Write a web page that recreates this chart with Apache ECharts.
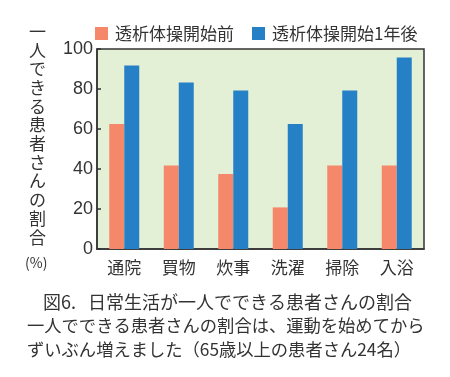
<!DOCTYPE html>
<html><head><meta charset="utf-8">
<script src="https://cdn.jsdelivr.net/npm/echarts@6/dist/echarts.min.js"></script>
<style>html,body{margin:0;padding:0;background:#fff}#c{width:450px;height:377px}</style>
</head><body><div id="c"></div>
<script>
const categories = ['通院','買物','炊事','洗濯','掃除','入浴'];
const seriesNames = ['透析体操開始前','透析体操開始1年後'];
const before = [62.5, 41.7, 37.5, 20.8, 41.7, 41.7];
const after = [91.7, 83.3, 79.2, 62.5, 79.2, 95.8];
const yTicks = [0, 20, 40, 60, 80, 100];
const yName = '一人できる患者さんの割合';
const yUnit = '(%)';
const figLabel = '図6.';
const captionLines = ['日常生活が一人でできる患者さんの割合','一人でできる患者さんの割合は、運動を始めてから','ずいぶん増えました（65歳以上の患者さん24名）'];

const font = '"Noto Sans CJK JP", "Noto Sans", sans-serif';
const chart = echarts.init(document.getElementById('c'), null, {renderer:'canvas'});
chart.setOption({
  animation:false,
  textStyle:{fontFamily:font},
  legend:{
    top:20, left:90, itemWidth:13, itemHeight:13, itemGap:18, icon:'rect',
    textStyle:{fontSize:17, color:'#333', fontFamily:font, padding:[0,0,0,2]},
    data:seriesNames
  },
  grid:{left:97, right:26, top:49, bottom:128, show:true, backgroundColor:'#e4f0d6', borderColor:'#333', borderWidth:1.5},
  xAxis:{
    type:'category', data:categories,
    axisLine:{lineStyle:{color:'#333', width:1.5}},
    axisTick:{inside:true, length:5, lineStyle:{color:'#333', width:1.5}},
    axisLabel:{fontSize:17, color:'#333', margin:10, fontFamily:font}
  },
  yAxis:{
    type:'value', min:yTicks[0], max:yTicks[yTicks.length-1], interval:20,
    axisLine:{show:true, lineStyle:{color:'#333', width:1.5}},
    axisTick:{show:true, inside:true, length:4, lineStyle:{color:'#333', width:1.5}},
    splitLine:{show:false},
    axisLabel:{fontSize:18, color:'#333', margin:4, fontFamily:'"Liberation Sans", Arial, sans-serif'}
  },
  series:[
    {name:seriesNames[0], type:'bar', data:before, barWidth:15, barGap:'0%', itemStyle:{color:'#f5886a'}},
    {name:seriesNames[1], type:'bar', data:after, barWidth:15, barGap:'0%', itemStyle:{color:'#2680c6'}}
  ],
  graphic:[
    {type:'text', left:29, top:22, style:{text:yName.split('').join('\n'), lineHeight:18.7, fill:'#333', font:'17px '+font, align:'center'}},
    {type:'text', left:25, top:256, style:{text:yUnit, fill:'#333', font:'14px '+font}},
    {type:'text', left:43, top:293, style:{text:figLabel, fill:'#333', font:'18px '+font}},
    {type:'text', left:88, top:293, style:{text:captionLines[0], fill:'#333', font:'18px '+font}},
    {type:'text', left:27, top:317, style:{text:captionLines[1], fill:'#333', font:'17.3px '+font}},
    {type:'text', left:27, top:341, style:{text:captionLines[2], fill:'#333', font:'17.3px '+font}}
  ]
});
</script></body></html>
